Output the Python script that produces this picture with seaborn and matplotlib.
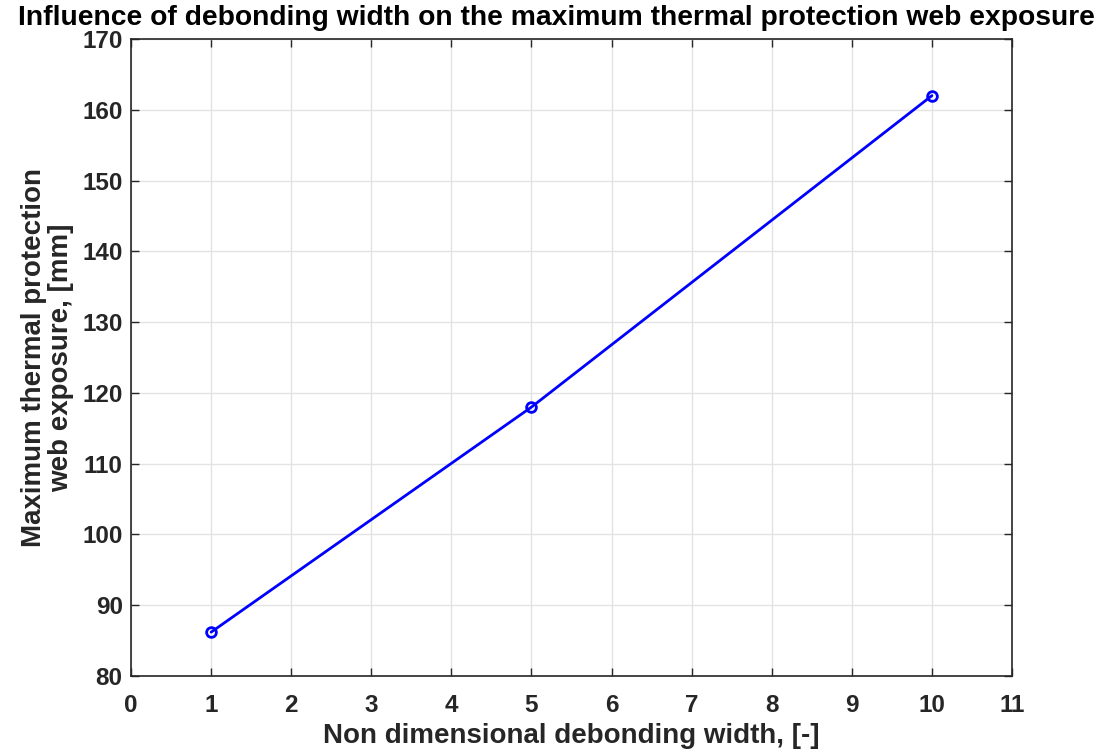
import matplotlib
matplotlib.use("Agg")
import matplotlib.pyplot as plt
import seaborn as sns
import pandas as pd

widths = [1, 5, 10]
exposure = [86.2, 118.0, 162.0]
x_ticks = list(range(0, 12))
y_ticks = list(range(80, 171, 10))

sns.set_theme(style="whitegrid")
plt.rcParams['font.family'] = ['Liberation Sans', 'DejaVu Sans']
plt.rcParams['font.weight'] = 'bold'

df = pd.DataFrame({"w": widths, "e": exposure})

fig = plt.figure(figsize=(11.17, 7.55), dpi=100)
ax = fig.add_axes([0.1173, 0.1046, 0.906 - 0.1173, 0.9483 - 0.1046])
sns.lineplot(data=df, x="w", y="e", ax=ax, color="#0000ff", linewidth=2,
             marker="o", markersize=7, markerfacecolor="none",
             markeredgecolor="#0000ff", markeredgewidth=2)

ax.set_xlim(0, 11)
ax.set_ylim(80, 170)
ax.set_xticks(x_ticks)
ax.set_yticks(y_ticks)
ax.grid(True, color="#e3e3e3", linewidth=1)
for s in ax.spines.values():
    s.set_color("#262626")
    s.set_linewidth(1.2)
ax.tick_params(axis="both", direction="in", length=6, width=1, color="#262626",
               labelsize=17.5, labelcolor="#262626", top=True, right=True,
               bottom=True, left=True, pad=6)
ax.tick_params(axis="x", pad=13)
for lab in ax.get_xticklabels() + ax.get_yticklabels():
    lab.set_fontweight("bold")

ax.set_xlabel("Non dimensional debonding width, [-]", fontsize=20, fontweight="bold",
              color="#262626", labelpad=4)
ax.set_ylabel("Maximum thermal protection\nweb exposure, [mm]", fontsize=20,
              fontweight="bold", color="#262626", labelpad=6, linespacing=1.05)
fig.suptitle("Influence of debonding width on the maximum thermal protection web exposure",
             x=0.498, y=0.993, fontsize=20.3, fontweight="bold", color="black")

fig.savefig("out.png", dpi=100, facecolor="white")
